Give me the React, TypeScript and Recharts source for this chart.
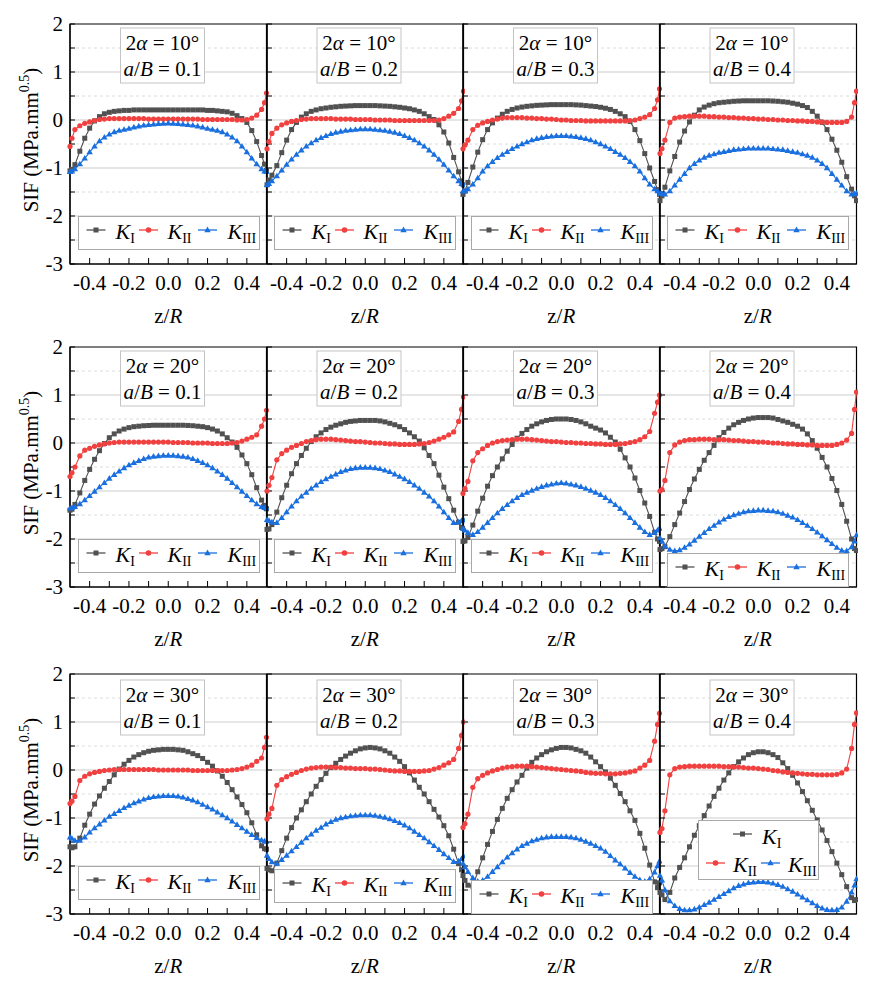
import React from 'react';
import { LineChart, Line, XAxis, YAxis, CartesianGrid, ReferenceArea, Legend } from 'recharts';

// ---------- data ----------
const zR = [-0.5, -0.49, -0.475, -0.45, -0.425, -0.4, -0.375, -0.35, -0.325, -0.3, -0.275, -0.25, -0.225, -0.2, -0.175, -0.15, -0.125, -0.1, -0.075, -0.05, -0.025, 0, 0.025, 0.05, 0.075, 0.1, 0.125, 0.15, 0.175, 0.2, 0.225, 0.25, 0.275, 0.3, 0.325, 0.35, 0.375, 0.4, 0.425, 0.45, 0.475, 0.49, 0.5];
const xTicks = [-0.4, -0.3, -0.2, -0.1, 0, 0.1, 0.2, 0.3, 0.4];
const yTicks = [-3, -2.5, -2, -1.5, -1, -0.5, 0, 0.5, 1, 1.5, 2];
const majorGrid = [1, 0, -1, -2];
const minorGrid = [1.5, 0.5, -0.5, -1.5, -2.5];
const angleLabels = ['10°', '20°', '30°'];
const ratioLabels = ['0.1', '0.2', '0.3', '0.4'];

// 2α = 10°
const kI_10_1 = [-1.06, -1.03, -0.93, -0.65, -0.38, -0.17, -0.02, 0.07, 0.13, 0.16, 0.18, 0.19, 0.2, 0.2, 0.21, 0.21, 0.21, 0.21, 0.21, 0.21, 0.21, 0.21, 0.21, 0.21, 0.21, 0.21, 0.21, 0.21, 0.21, 0.2, 0.2, 0.19, 0.18, 0.17, 0.14, 0.09, 0.03, -0.05, -0.22, -0.45, -0.74, -0.92, -1.05];
const kII_10_1 = [-0.55, -0.38, -0.2, -0.12, -0.07, -0.04, -0.01, 0.01, 0.02, 0.03, 0.03, 0.03, 0.03, 0.03, 0.03, 0.03, 0.03, 0.02, 0.02, 0.02, 0.02, 0.02, 0.02, 0.02, 0.02, 0.02, 0.02, 0.02, 0.01, 0.01, 0.01, 0.01, 0.01, 0.01, 0.01, 0.0, 0.0, 0.01, 0.04, 0.1, 0.22, 0.36, 0.56];
const kIII_10_1 = [-1.08, -1.07, -1.02, -0.92, -0.8, -0.67, -0.55, -0.44, -0.36, -0.3, -0.25, -0.22, -0.2, -0.18, -0.15, -0.13, -0.11, -0.1, -0.09, -0.08, -0.075, -0.07, -0.075, -0.08, -0.09, -0.1, -0.11, -0.13, -0.15, -0.18, -0.2, -0.22, -0.25, -0.3, -0.36, -0.44, -0.55, -0.67, -0.8, -0.92, -1.02, -1.07, -1.08];

const kI_10_2 = [-1.35, -1.25, -1.15, -0.95, -0.68, -0.42, -0.2, -0.05, 0.06, 0.13, 0.18, 0.21, 0.235, 0.25, 0.265, 0.275, 0.285, 0.29, 0.295, 0.3, 0.3, 0.3, 0.3, 0.3, 0.295, 0.29, 0.285, 0.275, 0.265, 0.25, 0.235, 0.21, 0.18, 0.13, 0.07, 0.01, -0.1, -0.25, -0.48, -0.78, -1.08, -1.27, -1.35];
const kII_10_2 = [-0.6, -0.45, -0.28, -0.17, -0.1, -0.06, -0.03, -0.01, 0.01, 0.02, 0.03, 0.03, 0.03, 0.03, 0.03, 0.02, 0.02, 0.02, 0.02, 0.01, 0.01, 0.01, 0.01, 0.0, 0.0, 0.0, 0.0, -0.01, -0.01, -0.01, -0.01, -0.01, -0.01, -0.01, -0.01, -0.01, 0.0, 0.03, 0.08, 0.14, 0.24, 0.4, 0.6];
const kIII_10_2 = [-1.35, -1.33, -1.27, -1.17, -1.05, -0.93, -0.82, -0.72, -0.63, -0.55, -0.48, -0.42, -0.37, -0.33, -0.29, -0.26, -0.24, -0.22, -0.21, -0.2, -0.19, -0.19, -0.19, -0.2, -0.21, -0.22, -0.24, -0.26, -0.29, -0.33, -0.37, -0.42, -0.48, -0.55, -0.63, -0.72, -0.82, -0.93, -1.05, -1.17, -1.27, -1.33, -1.35];

const kI_10_3 = [-1.55, -1.48, -1.3, -0.98, -0.67, -0.41, -0.2, -0.06, 0.04, 0.12, 0.18, 0.22, 0.25, 0.27, 0.285, 0.295, 0.305, 0.31, 0.315, 0.32, 0.32, 0.32, 0.32, 0.32, 0.315, 0.31, 0.3, 0.29, 0.28, 0.265, 0.245, 0.22, 0.18, 0.13, 0.07, -0.03, -0.2, -0.43, -0.7, -1.0, -1.28, -1.45, -1.55];
const kII_10_3 = [-0.6, -0.52, -0.42, -0.2, -0.11, -0.06, -0.03, 0.0, 0.02, 0.04, 0.05, 0.05, 0.05, 0.05, 0.04, 0.04, 0.03, 0.03, 0.02, 0.02, 0.01, 0.0, 0.0, -0.01, -0.01, -0.01, -0.02, -0.02, -0.02, -0.02, -0.02, -0.02, -0.02, -0.02, -0.02, -0.01, 0.0, 0.03, 0.06, 0.11, 0.24, 0.42, 0.65];
const kIII_10_3 = [-1.48, -1.48, -1.44, -1.34, -1.21, -1.07, -0.96, -0.87, -0.79, -0.72, -0.66, -0.6, -0.55, -0.5, -0.46, -0.42, -0.39, -0.37, -0.35, -0.34, -0.33, -0.33, -0.33, -0.34, -0.35, -0.37, -0.39, -0.42, -0.46, -0.5, -0.55, -0.6, -0.66, -0.72, -0.79, -0.87, -0.96, -1.07, -1.21, -1.34, -1.44, -1.48, -1.48];

const kI_10_4 = [-1.68, -1.58, -1.4, -1.06, -0.76, -0.46, -0.23, -0.04, 0.1, 0.21, 0.27, 0.31, 0.34, 0.36, 0.37, 0.38, 0.39, 0.395, 0.4, 0.4, 0.4, 0.4, 0.4, 0.4, 0.395, 0.39, 0.38, 0.37, 0.35, 0.33, 0.3, 0.26, 0.18, 0.08, -0.05, -0.2, -0.4, -0.63, -0.88, -1.18, -1.44, -1.58, -1.68];
const kII_10_4 = [-0.7, -0.6, -0.42, -0.05, 0.04, 0.06, 0.07, 0.08, 0.08, 0.08, 0.08, 0.07, 0.07, 0.06, 0.06, 0.05, 0.05, 0.04, 0.04, 0.03, 0.03, 0.02, 0.02, 0.01, 0.01, 0.0, 0.0, -0.01, -0.01, -0.02, -0.02, -0.03, -0.03, -0.04, -0.04, -0.05, -0.05, -0.05, -0.05, -0.03, 0.06, 0.36, 0.6];
const kIII_10_4 = [-1.53, -1.54, -1.55, -1.48, -1.36, -1.24, -1.12, -1.0, -0.91, -0.84, -0.78, -0.74, -0.71, -0.68, -0.66, -0.64, -0.62, -0.61, -0.6, -0.59, -0.59, -0.59, -0.59, -0.59, -0.6, -0.61, -0.62, -0.64, -0.66, -0.68, -0.71, -0.74, -0.78, -0.84, -0.91, -1.0, -1.12, -1.24, -1.36, -1.48, -1.55, -1.54, -1.53];

// 2α = 20°
const kI_20_1 = [-1.4, -1.38, -1.28, -1.04, -0.78, -0.55, -0.34, -0.16, -0.01, 0.11, 0.19, 0.25, 0.29, 0.32, 0.34, 0.35, 0.36, 0.365, 0.37, 0.37, 0.37, 0.37, 0.37, 0.37, 0.37, 0.365, 0.36, 0.35, 0.34, 0.32, 0.29, 0.25, 0.19, 0.11, 0.02, -0.09, -0.25, -0.43, -0.66, -0.93, -1.19, -1.3, -1.37];
const kII_20_1 = [-0.7, -0.62, -0.5, -0.27, -0.15, -0.11, -0.07, -0.04, -0.02, 0.0, 0.01, 0.02, 0.02, 0.02, 0.02, 0.02, 0.02, 0.02, 0.02, 0.02, 0.02, 0.02, 0.01, 0.01, 0.01, 0.01, 0.0, 0.0, 0.0, 0.0, -0.01, -0.01, -0.01, -0.01, 0.0, 0.01, 0.04, 0.08, 0.12, 0.17, 0.35, 0.5, 0.68];
const kIII_20_1 = [-1.36, -1.35, -1.33, -1.27, -1.19, -1.1, -1.01, -0.92, -0.83, -0.74, -0.66, -0.59, -0.52, -0.46, -0.41, -0.37, -0.33, -0.3, -0.28, -0.27, -0.26, -0.26, -0.26, -0.27, -0.28, -0.3, -0.33, -0.37, -0.41, -0.46, -0.52, -0.59, -0.66, -0.74, -0.83, -0.92, -1.01, -1.1, -1.19, -1.27, -1.33, -1.35, -1.36];

const kI_20_2 = [-1.8, -1.79, -1.7, -1.44, -1.14, -0.88, -0.64, -0.43, -0.26, -0.11, 0.03, 0.13, 0.21, 0.28, 0.33, 0.37, 0.4, 0.43, 0.45, 0.46, 0.47, 0.47, 0.47, 0.47, 0.46, 0.44, 0.41, 0.38, 0.34, 0.28, 0.21, 0.13, 0.04, -0.1, -0.26, -0.43, -0.67, -0.92, -1.16, -1.4, -1.65, -1.76, -1.78];
const kII_20_2 = [-1.0, -0.88, -0.72, -0.35, -0.22, -0.15, -0.09, -0.05, -0.01, 0.03, 0.05, 0.07, 0.08, 0.08, 0.08, 0.07, 0.06, 0.05, 0.04, 0.03, 0.03, 0.02, 0.01, 0.0, 0.0, -0.01, -0.02, -0.02, -0.03, -0.03, -0.03, -0.03, -0.02, -0.01, 0.01, 0.04, 0.08, 0.12, 0.17, 0.23, 0.45, 0.7, 0.96];
const kIII_20_2 = [-1.6, -1.62, -1.65, -1.66, -1.56, -1.44, -1.32, -1.21, -1.11, -1.03, -0.95, -0.88, -0.81, -0.75, -0.7, -0.65, -0.6, -0.57, -0.54, -0.52, -0.51, -0.51, -0.51, -0.52, -0.54, -0.57, -0.6, -0.65, -0.7, -0.75, -0.81, -0.88, -0.95, -1.03, -1.11, -1.21, -1.32, -1.44, -1.56, -1.66, -1.65, -1.62, -1.6];

const kI_20_3 = [-2.05, -2.04, -1.97, -1.71, -1.42, -1.15, -0.9, -0.68, -0.5, -0.33, -0.17, -0.03, 0.1, 0.2, 0.28, 0.35, 0.4, 0.44, 0.47, 0.49, 0.5, 0.5, 0.5, 0.49, 0.47, 0.44, 0.4, 0.35, 0.31, 0.27, 0.21, 0.12, 0.02, -0.13, -0.31, -0.5, -0.73, -0.99, -1.25, -1.53, -1.86, -2.0, -2.05];
const kII_20_3 = [-1.05, -0.95, -0.8, -0.37, -0.2, -0.12, -0.05, 0.0, 0.03, 0.05, 0.06, 0.07, 0.08, 0.08, 0.08, 0.07, 0.06, 0.05, 0.04, 0.03, 0.03, 0.02, 0.01, 0.01, 0.0, 0.0, -0.01, -0.01, -0.02, -0.02, -0.03, -0.03, -0.03, -0.02, -0.01, 0.01, 0.03, 0.07, 0.13, 0.24, 0.62, 0.85, 1.0];
const kIII_20_3 = [-1.78, -1.82, -1.87, -1.91, -1.85, -1.76, -1.66, -1.56, -1.46, -1.37, -1.29, -1.21, -1.14, -1.08, -1.03, -0.99, -0.95, -0.91, -0.88, -0.86, -0.84, -0.83, -0.84, -0.86, -0.88, -0.91, -0.95, -0.99, -1.03, -1.08, -1.14, -1.21, -1.29, -1.37, -1.46, -1.56, -1.66, -1.76, -1.85, -1.91, -1.87, -1.82, -1.78];

const kI_20_4 = [-2.22, -2.2, -2.16, -1.95, -1.7, -1.46, -1.22, -0.97, -0.75, -0.55, -0.36, -0.2, -0.05, 0.11, 0.22, 0.31, 0.38, 0.43, 0.47, 0.5, 0.52, 0.53, 0.53, 0.53, 0.52, 0.49, 0.46, 0.43, 0.39, 0.35, 0.29, 0.19, 0.05, -0.11, -0.3, -0.5, -0.74, -0.99, -1.28, -1.63, -2.0, -2.2, -2.24];
const kII_20_4 = [-1.0, -0.97, -0.78, -0.2, -0.04, 0.02, 0.05, 0.07, 0.07, 0.08, 0.08, 0.08, 0.07, 0.07, 0.07, 0.06, 0.05, 0.05, 0.04, 0.03, 0.03, 0.02, 0.02, 0.01, 0.0, 0.0, -0.01, -0.02, -0.02, -0.03, -0.03, -0.04, -0.04, -0.05, -0.05, -0.05, -0.05, -0.03, 0.0, 0.06, 0.2, 0.7, 1.06];
const kIII_20_4 = [-1.98, -2.05, -2.15, -2.22, -2.25, -2.23, -2.18, -2.11, -2.03, -1.95, -1.87, -1.79, -1.72, -1.65, -1.59, -1.54, -1.5, -1.47, -1.44, -1.42, -1.41, -1.4, -1.4, -1.41, -1.42, -1.44, -1.47, -1.51, -1.55, -1.6, -1.66, -1.72, -1.79, -1.86, -1.94, -2.02, -2.1, -2.18, -2.24, -2.25, -2.17, -2.05, -1.92];

// 2α = 30°
const kI_30_1 = [-1.6, -1.62, -1.6, -1.42, -1.15, -0.92, -0.71, -0.54, -0.38, -0.24, -0.1, 0.02, 0.12, 0.2, 0.27, 0.32, 0.36, 0.39, 0.41, 0.42, 0.43, 0.43, 0.43, 0.42, 0.41, 0.38, 0.34, 0.3, 0.24, 0.16, 0.08, -0.02, -0.13, -0.26, -0.41, -0.56, -0.72, -0.89, -1.1, -1.35, -1.58, -1.64, -1.65];
const kII_30_1 = [-0.7, -0.65, -0.55, -0.22, -0.13, -0.08, -0.05, -0.03, -0.01, 0.0, 0.01, 0.01, 0.01, 0.01, 0.01, 0.01, 0.01, 0.01, 0.01, 0.0, 0.0, 0.0, 0.0, 0.0, 0.0, 0.0, -0.01, -0.01, -0.01, -0.01, -0.01, -0.01, -0.01, -0.01, 0.0, 0.01, 0.03, 0.06, 0.1, 0.18, 0.25, 0.47, 0.68];
const kIII_30_1 = [-1.4, -1.43, -1.47, -1.47, -1.4, -1.3, -1.21, -1.13, -1.05, -0.97, -0.91, -0.85, -0.79, -0.74, -0.69, -0.65, -0.61, -0.58, -0.56, -0.55, -0.54, -0.54, -0.54, -0.55, -0.57, -0.6, -0.63, -0.67, -0.72, -0.77, -0.82, -0.88, -0.94, -1.0, -1.07, -1.14, -1.21, -1.28, -1.35, -1.41, -1.46, -1.48, -1.49];

const kI_30_2 = [-2.05, -2.08, -2.1, -1.94, -1.68, -1.42, -1.2, -1.0, -0.83, -0.66, -0.5, -0.34, -0.2, -0.07, 0.05, 0.14, 0.22, 0.29, 0.35, 0.4, 0.44, 0.46, 0.47, 0.46, 0.44, 0.4, 0.35, 0.27, 0.18, 0.07, -0.06, -0.21, -0.36, -0.5, -0.66, -0.82, -0.98, -1.16, -1.37, -1.65, -1.95, -2.08, -2.12];
const kII_30_2 = [-1.02, -0.92, -0.8, -0.32, -0.2, -0.14, -0.09, -0.05, -0.01, 0.02, 0.04, 0.05, 0.06, 0.06, 0.06, 0.05, 0.05, 0.04, 0.04, 0.03, 0.03, 0.03, 0.02, 0.02, 0.01, 0.0, -0.01, -0.02, -0.02, -0.03, -0.03, -0.03, -0.03, -0.02, -0.01, 0.02, 0.05, 0.1, 0.15, 0.22, 0.45, 0.72, 1.0];
const kIII_30_2 = [-1.78, -1.85, -1.92, -1.95, -1.87, -1.78, -1.69, -1.6, -1.51, -1.42, -1.34, -1.26, -1.2, -1.13, -1.08, -1.03, -1.0, -0.98, -0.96, -0.95, -0.94, -0.94, -0.94, -0.95, -0.97, -0.99, -1.02, -1.06, -1.1, -1.15, -1.21, -1.28, -1.35, -1.42, -1.5, -1.58, -1.66, -1.75, -1.83, -1.91, -1.9, -1.85, -1.8];

const kI_30_3 = [-2.2, -2.3, -2.4, -2.42, -2.12, -1.83, -1.55, -1.28, -1.03, -0.8, -0.59, -0.41, -0.25, -0.11, 0.04, 0.16, 0.25, 0.32, 0.38, 0.42, 0.45, 0.47, 0.47, 0.46, 0.43, 0.4, 0.35, 0.27, 0.17, 0.07, -0.04, -0.17, -0.32, -0.49, -0.66, -0.85, -1.05, -1.32, -1.63, -1.98, -2.33, -2.45, -2.35];
const kII_30_3 = [-1.2, -1.12, -0.92, -0.36, -0.18, -0.11, -0.06, -0.02, 0.01, 0.04, 0.06, 0.07, 0.08, 0.08, 0.08, 0.07, 0.06, 0.05, 0.04, 0.03, 0.02, 0.01, 0.0, -0.01, -0.02, -0.03, -0.05, -0.06, -0.07, -0.07, -0.08, -0.08, -0.08, -0.07, -0.06, -0.04, -0.02, 0.04, 0.1, 0.2, 0.6, 0.95, 1.18];
const kIII_30_3 = [-1.95, -2.02, -2.12, -2.25, -2.32, -2.3, -2.22, -2.12, -2.02, -1.92, -1.82, -1.73, -1.65, -1.58, -1.53, -1.48, -1.45, -1.42, -1.4, -1.39, -1.39, -1.39, -1.39, -1.4, -1.42, -1.45, -1.49, -1.53, -1.58, -1.63, -1.7, -1.79, -1.88, -1.96, -2.05, -2.14, -2.22, -2.29, -2.32, -2.27, -2.13, -2.0, -1.9];

const kI_30_4 = [-2.55, -2.6, -2.7, -2.55, -2.25, -2.03, -1.83, -1.6, -1.36, -1.16, -0.95, -0.75, -0.55, -0.38, -0.21, -0.06, 0.07, 0.17, 0.25, 0.32, 0.36, 0.38, 0.38, 0.36, 0.32, 0.26, 0.15, 0.03, -0.11, -0.27, -0.45, -0.64, -0.84, -1.04, -1.25, -1.47, -1.7, -1.94, -2.18, -2.43, -2.66, -2.72, -2.7];
const kII_30_4 = [-1.3, -1.22, -0.85, -0.1, 0.03, 0.06, 0.07, 0.08, 0.08, 0.08, 0.08, 0.08, 0.08, 0.08, 0.07, 0.07, 0.06, 0.06, 0.05, 0.04, 0.04, 0.03, 0.02, 0.01, -0.01, -0.02, -0.04, -0.05, -0.06, -0.07, -0.08, -0.09, -0.09, -0.1, -0.1, -0.1, -0.1, -0.09, -0.06, 0.02, 0.45, 0.95, 1.19];
const kIII_30_4 = [-2.2, -2.3, -2.5, -2.73, -2.83, -2.89, -2.92, -2.92, -2.9, -2.86, -2.81, -2.76, -2.7, -2.64, -2.58, -2.52, -2.46, -2.41, -2.38, -2.35, -2.34, -2.33, -2.33, -2.34, -2.36, -2.39, -2.43, -2.48, -2.53, -2.59, -2.65, -2.71, -2.77, -2.83, -2.88, -2.91, -2.92, -2.91, -2.86, -2.74, -2.55, -2.4, -2.27];

const seriesGrid = [
  [[kI_10_1, kII_10_1, kIII_10_1], [kI_10_2, kII_10_2, kIII_10_2], [kI_10_3, kII_10_3, kIII_10_3], [kI_10_4, kII_10_4, kIII_10_4]],
  [[kI_20_1, kII_20_1, kIII_20_1], [kI_20_2, kII_20_2, kIII_20_2], [kI_20_3, kII_20_3, kIII_20_3], [kI_20_4, kII_20_4, kIII_20_4]],
  [[kI_30_1, kII_30_1, kIII_30_1], [kI_30_2, kII_30_2, kIII_30_2], [kI_30_3, kII_30_3, kIII_30_3], [kI_30_4, kII_30_4, kIII_30_4]],
];

// ---------- styling / layout ----------
const FONT = 'Liberation Serif, DejaVu Serif, serif';
const GRAY = '#515151';
const RED = '#F14040';
const BLUE = '#1A6FDF';
const COL_LEFT = [70, 266.5, 463, 659.5];
const ROW_TOP = [24, 347, 674];
const PLOT_W = 196.5;
const PLOT_H = 240;
const Y_W = 68;
const M = 2;
const MT = 14;

type LegendBox = { left: number; top: number; w: number; h: number; stacked?: boolean };
const DEFAULT_LEGEND: LegendBox = { left: 7.5, top: 192, w: 182, h: 34 };
const legendFor = (r: number, c: number): LegendBox => {
  if (r === 1 && c === 3) return { left: 7.5, top: 205.5, w: 182, h: 34.5 };
  if (r === 2 && c === 1) return { left: 7, top: 195, w: 182, h: 34 };
  if (r === 2 && c === 2) return { left: 8, top: 205.5, w: 182, h: 34.5 };
  if (r === 2 && c === 3) return { left: 38, top: 146, w: 121, h: 60, stacked: true };
  return DEFAULT_LEGEND;
};

const squareDot = (p: any) => {
  const { cx, cy, index } = p;
  if (cx == null || cy == null) return <g key={`q${index}`} />;
  return <rect key={`q${index}`} x={cx - 2.5} y={cy - 2.5} width={5} height={5} fill={GRAY} />;
};
const circleDot = (p: any) => {
  const { cx, cy, index } = p;
  if (cx == null || cy == null) return <g key={`c${index}`} />;
  return <circle key={`c${index}`} cx={cx} cy={cy} r={2.6} fill={RED} />;
};
const triDot = (p: any) => {
  const { cx, cy, index } = p;
  if (cx == null || cy == null) return <g key={`t${index}`} />;
  return <polygon key={`t${index}`} points={`${cx},${cy - 3.4} ${cx - 3.2},${cy + 2.2} ${cx + 3.2},${cy + 2.2}`} fill={BLUE} />;
};

const XTick = (props: any) => {
  const { x, y, payload } = props;
  const v = payload.value as number;
  const major = Math.abs(Math.round(v * 10)) % 2 === 0;
  if (!major) return <g />;
  return (
    <text x={x} y={y} textAnchor="middle" fontSize={21} fontFamily={FONT} fill="#000">
      {v.toFixed(1)}
    </text>
  );
};
const YTickLabelled = (props: any) => {
  const { x, y, payload } = props;
  const v = payload.value as number;
  if (!Number.isInteger(v)) return <g />;
  return (
    <text x={x} y={y + 7} textAnchor="end" fontSize={21} fontFamily={FONT} fill="#000">
      {String(v)}
    </text>
  );
};
const YTickBlank = () => <g />;

const Sym = ({ kind, x, y }: { kind: 'I' | 'II' | 'III'; x: number; y: number }) => {
  const color = kind === 'I' ? GRAY : kind === 'II' ? RED : BLUE;
  const cx = x + 9.5;
  return (
    <g>
      <line x1={x} y1={y} x2={x + 19} y2={y} stroke={color} strokeWidth={1.3} />
      {kind === 'I' && <rect x={cx - 2.5} y={y - 2.5} width={5} height={5} fill={color} />}
      {kind === 'II' && <circle cx={cx} cy={y} r={2.8} fill={color} />}
      {kind === 'III' && <polygon points={`${cx},${y - 3.4} ${cx - 3.2},${y + 2.2} ${cx + 3.2},${y + 2.2}`} fill={color} />}
    </g>
  );
};
const KLabel = ({ sub, x, y }: { sub: string; x: number; y: number }) => (
  <text x={x} y={y} fontFamily={FONT} fontSize={22} fill="#000">
    <tspan fontStyle="italic">K</tspan>
    <tspan fontSize={14} dy={4}>{sub}</tspan>
  </text>
);

const LegendContent = ({ box }: { box: LegendBox }) => (
  <svg width={box.w} height={box.h} style={{ display: 'block' }}>
    <rect x={0.5} y={0.5} width={box.w - 1} height={box.h - 1} fill="#fff" stroke="#a8a8a8" strokeWidth={1} />
    {box.stacked ? (
      <g>
        <Sym kind="I" x={35} y={14} />
        <KLabel sub="I" x={64} y={24} />
        <Sym kind="II" x={8} y={43} />
        <KLabel sub="II" x={35} y={51.5} />
        <Sym kind="III" x={63} y={43} />
        <KLabel sub="III" x={90} y={51.5} />
      </g>
    ) : (
      <g>
        <Sym kind="I" x={8.5} y={14} />
        <KLabel sub="I" x={37.5} y={22.5} />
        <Sym kind="II" x={61} y={14} />
        <KLabel sub="II" x={89.5} y={22.5} />
        <Sym kind="III" x={120} y={14} />
        <KLabel sub="III" x={149.5} y={22.5} />
      </g>
    )}
  </svg>
);

function Panel({ r, c }: { r: number; c: number }) {
  const [a, b, d] = seriesGrid[r][c];
  const rows = zR.map((z, i) => ({ z, kI: a[i], kII: b[i], kIII: d[i] }));
  const box = legendFor(r, c);
  const chartW = M + Y_W + PLOT_W + M;
  const chartH = MT + PLOT_H + 62;
  return (
    <div style={{ position: 'absolute', left: COL_LEFT[c] - Y_W - M, top: ROW_TOP[r] - MT }}>
      <LineChart width={chartW} height={chartH} data={rows} margin={{ top: MT, right: M, left: M, bottom: 0 }}>
        <CartesianGrid vertical={false} horizontalValues={majorGrid} stroke="#cdcdcd" strokeWidth={1} />
        <CartesianGrid vertical={false} horizontalValues={minorGrid} stroke="#dcdcdc" strokeWidth={1} strokeDasharray="3 3" />
        <XAxis
          type="number"
          dataKey="z"
          domain={[-0.5, 0.5]}
          ticks={xTicks}
          interval={0}
          tickSize={-6}
          tickMargin={31.5}
          tick={XTick}
          height={62}
          axisLine={{ stroke: '#000', strokeWidth: 1.2 }}
          tickLine={{ stroke: '#000', strokeWidth: 1 }}
        />
        <YAxis
          type="number"
          domain={[-3, 2]}
          ticks={yTicks}
          interval={0}
          tickSize={-5}
          tickMargin={12}
          width={Y_W}
          tick={c === 0 ? YTickLabelled : YTickBlank}
          axisLine={{ stroke: '#000', strokeWidth: 1.2 }}
          tickLine={{ stroke: '#000', strokeWidth: 1 }}
        />
        <ReferenceArea x1={-0.5} x2={0.5} y1={-3} y2={2} fill="none" fillOpacity={0} stroke="#000" strokeWidth={1.2} />
        <Line type="linear" dataKey="kI" name="KI" stroke={GRAY} strokeWidth={1.1} dot={squareDot} activeDot={false} isAnimationActive={false} />
        <Line type="linear" dataKey="kII" name="KII" stroke={RED} strokeWidth={1.1} dot={circleDot} activeDot={false} isAnimationActive={false} />
        <Line type="linear" dataKey="kIII" name="KIII" stroke={BLUE} strokeWidth={1.1} dot={triDot} activeDot={false} isAnimationActive={false} />
        <Legend
          layout="horizontal"
          verticalAlign="middle"
          align="center"
          content={() => <LegendContent box={box} />}
          wrapperStyle={{ left: M + Y_W + box.left, top: MT + box.top, width: box.w, height: box.h, margin: 0, padding: 0 }}
        />
      </LineChart>
    </div>
  );
}

const Overlay = () => (
  <svg width={877} height={985} style={{ position: 'absolute', left: 0, top: 0, pointerEvents: 'none' }}>
    {ROW_TOP.map((top, r) => (
      <g key={`row${r}`}>
        <text
          transform={`translate(38, ${top + 116}) rotate(-90)`}
          textAnchor="middle"
          fontFamily={FONT}
          fontSize={21}
          fill="#000"
        >
          SIF (MPa.mm
          <tspan fontSize={14} dy={-9}>0.5</tspan>
          <tspan dy={9}>)</tspan>
        </text>
        {COL_LEFT.map((left, c) => {
          const boxTop = top + (r === 2 ? 6 : 4);
          return (
            <g key={`p${r}${c}`}>
              <rect x={left + 50.5} y={boxTop} width={84} height={55} fill="#fff" stroke="#c4c4c4" strokeWidth={1} />
              <text x={left + 92.5} y={boxTop + 22} textAnchor="middle" fontFamily={FONT} fontSize={21} fill="#000">
                2<tspan fontStyle="italic">α</tspan> = {angleLabels[r]}
              </text>
              <text x={left + 92.5} y={boxTop + 48} textAnchor="middle" fontFamily={FONT} fontSize={21} fill="#000">
                <tspan fontStyle="italic">a</tspan>/<tspan fontStyle="italic">B</tspan> = {ratioLabels[c]}
              </text>
              <text x={left + PLOT_W / 2} y={top + PLOT_H + 59} textAnchor="middle" fontFamily={FONT} fontSize={21} fill="#000">
                z/<tspan fontStyle="italic">R</tspan>
              </text>
            </g>
          );
        })}
      </g>
    ))}
  </svg>
);

export default function App() {
  const panels: React.ReactNode[] = [];
  for (let r = 0; r < 3; r++) {
    for (let c = 0; c < 4; c++) {
      panels.push(<Panel key={`${r}-${c}`} r={r} c={c} />);
    }
  }
  return (
    <div style={{ position: 'absolute', left: 0, top: 0, width: 877, height: 985, background: '#fff', overflow: 'hidden', fontFamily: FONT }}>
      {panels}
      <Overlay />
    </div>
  );
}
